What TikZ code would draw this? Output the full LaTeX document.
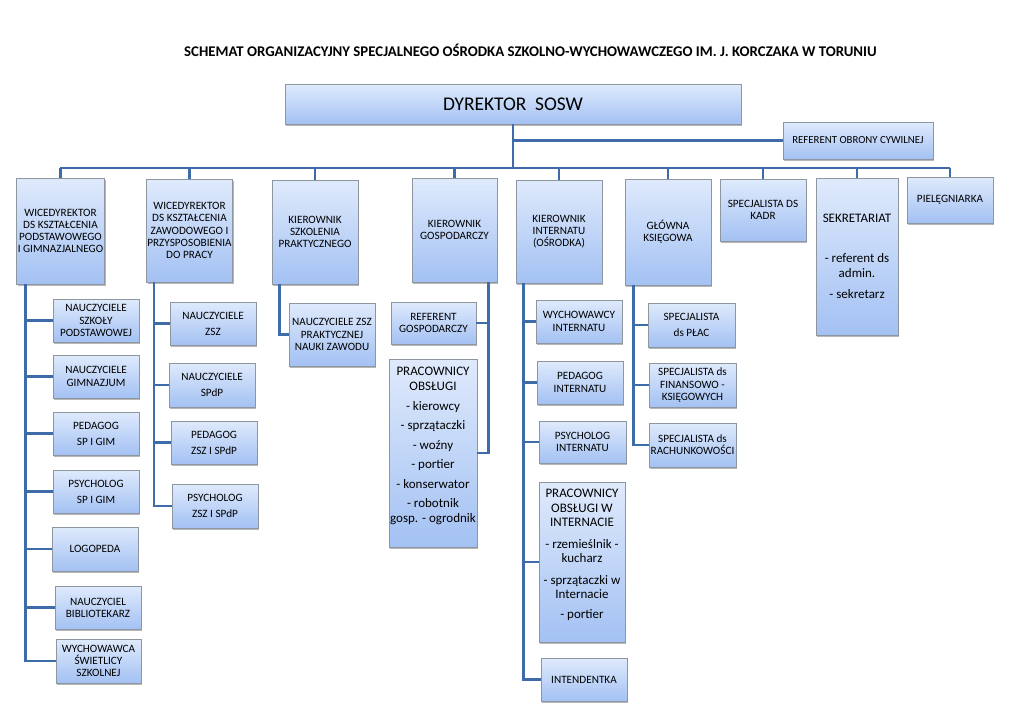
\documentclass[tikz,border=0pt]{standalone}
\usepackage{fontspec}
\setmainfont{Carlito}
\usetikzlibrary{shadows}
\definecolor{boxtop}{HTML}{DFEAFC}
\definecolor{boxbot}{HTML}{A3C1F3}
\definecolor{connc}{HTML}{3E6CA8}
\definecolor{boxline}{HTML}{8E969F}
\begin{document}
\begin{tikzpicture}[x=1pt,y=-1pt,
  box/.style={draw=boxline, line width=0.7pt, top color=boxtop, bottom color=boxbot,
    align=center, inner sep=1pt, font=\fontsize{11.2}{12.2}\selectfont,
    drop shadow={shadow xshift=1.4pt, shadow yshift=-1.8pt, opacity=0.4, fill=black!70}},
  wh/.style 2 args={minimum width=#1pt, minimum height=#2pt},
  big/.style={font=\fontsize{13}{14.5}\selectfont},
  conn/.style={draw=connc, line width=2.4pt}]
\fill[white] (0,0) rectangle (1024,725);
\useasboundingbox (0,0) rectangle (1024,725);

\node[font=\bfseries\fontsize{14.8}{17}\selectfont] (title) at (530.5,50)
  {SCHEMAT ORGANIZACYJNY SPECJALNEGO OŚRODKA SZKOLNO-WYCHOWAWCZEGO IM. J. KORCZAKA W TORUNIU};

% top level
\node[box, wh={456}{40}, font=\fontsize{19.4}{21}\selectfont] (dir) at (513,104) {DYREKTOR\ \ SOSW};
\node[box, wh={150}{37}, font=\fontsize{10.8}{12}\selectfont] (ref) at (858,140.5) {REFERENT OBRONY CYWILNEJ};

\node[box, wh={87}{106}] (b1) at (60.5,231) {WICEDYREKTOR\\DS KSZTAŁCENIA\\PODSTAWOWEGO\\I GIMNAZJALNEGO};
\node[box, wh={85}{103}] (b2) at (189.5,230.5) {WICEDYREKTOR\\DS KSZTAŁCENIA\\ZAWODOWEGO I\\PRZYSPOSOBIENIA\\DO PRACY};
\node[box, wh={86}{104}] (b3) at (315,232) {KIEROWNIK\\SZKOLENIA\\PRAKTYCZNEGO};
\node[box, wh={85}{104}] (b4) at (454.5,230) {KIEROWNIK\\GOSPODARCZY};
\node[box, wh={86}{103}] (b5) at (559,231.5) {KIEROWNIK\\INTERNATU\\(OŚRODKA)};
\node[box, wh={86}{106}] (b6) at (668,232) {GŁÓWNA\\KSIĘGOWA};
\node[box, wh={86}{62}] (b7) at (763,210) {SPECJALISTA DS\\KADR};
\node[box, wh={82}{157}, big] (b8) at (857,256.5) {SEKRETARIAT\\[26pt]- referent ds\\admin.\\[7pt]- sekretarz};
\node[box, wh={86}{46}] (b9) at (950,200) {PIELĘGNIARKA};

% column 1
\node[box, wh={86}{43}] (s11) at (96,320.5) {NAUCZYCIELE\\SZKOŁY\\PODSTAWOWEJ};
\node[box, wh={86}{43}] (s12) at (96,376.5) {NAUCZYCIELE\\GIMNAZJUM};
\node[box, wh={86}{43}] (s13) at (96,433.5) {PEDAGOG\\[4pt]SP I GIM};
\node[box, wh={86}{43}] (s14) at (96,491.5) {PSYCHOLOG\\[4pt]SP I GIM};
\node[box, wh={86}{44}] (s15) at (95,549) {LOGOPEDA};
\node[box, wh={86}{43}] (s16) at (98,607.5) {NAUCZYCIEL\\BIBLIOTEKARZ};
\node[box, wh={85}{44}] (s17) at (98.5,661) {WYCHOWAWCA\\ŚWIETLICY\\SZKOLNEJ};

% column 2
\node[box, wh={86}{43}] (s21) at (213,323.5) {NAUCZYCIELE\\[4pt]ZSZ};
\node[box, wh={86}{44}] (s22) at (212,385) {NAUCZYCIELE\\[4pt]SPdP};
\node[box, wh={86}{43}] (s23) at (214,442.5) {PEDAGOG\\[4pt]ZSZ I SPdP};
\node[box, wh={86}{44}] (s24) at (215,506) {PSYCHOLOG\\[4pt]ZSZ I SPdP};

% column 3
\node[box, wh={86}{63}] (s31) at (332,334.5) {NAUCZYCIELE ZSZ\\PRAKTYCZNEJ\\NAUKI ZAWODU};

% column 4
\node[box, wh={85}{42}] (s41) at (433.5,323) {REFERENT\\GOSPODARCZY};
\node[box, wh={88}{188}, big] (s42) at (433,453)
  {PRACOWNICY\\OBSŁUGI\\[5.5pt]- kierowcy\\[5pt]- sprzątaczki\\[5pt]- woźny\\[5pt]- portier\\[5pt]- konserwator\\[5pt]- robotnik\\gosp. - ogrodnik\\[2pt]\mbox{}};

% column 5
\node[box, wh={86}{43}] (s51) at (579,321.5) {WYCHOWAWCY\\INTERNATU};
\node[box, wh={86}{43}] (s52) at (580,382.5) {PEDAGOG\\INTERNATU};
\node[box, wh={87}{42}] (s53) at (582.5,442) {PSYCHOLOG\\INTERNATU};
\node[box, wh={86}{160}, big] (s54) at (582,562)
  {PRACOWNICY\\OBSŁUGI W\\INTERNACIE\\[7pt]- rzemieślnik -\\kucharz\\[7pt]- sprzątaczki w\\Internacie\\[5pt]- portier\\[2pt]\mbox{}};
\node[box, wh={86}{43}] (s55) at (584,679.5) {INTENDENTKA};

% column 6
\node[box, wh={87}{44}] (s61) at (691.5,325) {SPECJALISTA\\[4pt]ds PŁAC};
\node[box, wh={87}{44}] (s62) at (692.5,385) {SPECJALISTA ds\\FINANSOWO -\\KSIĘGOWYCH};
\node[box, wh={87}{44}] (s63) at (692.5,445) {SPECJALISTA ds\\RACHUNKOWOŚCI};

% connectors: top bus
\coordinate (busL) at (60,168);
\coordinate (busR) at (950,168);
\draw[conn] (busL) -- (busR);
\draw[conn] (dir.south) -- (dir.south |- busL);
\draw[conn] (dir.south |- ref.west) -- (ref.west);
\foreach \b in {b1,b2,b3,b4,b5,b6,b7,b8,b9}
  \draw[conn] (\b.north) -- (\b.north |- busL);

% column lines
\coordinate (c1) at ([xshift=9pt]b1.south west);
\coordinate (c2) at ([xshift=8pt]b2.south west);
\coordinate (c3) at ([xshift=8pt]b3.south west);
\coordinate (c4) at ([xshift=-9pt]b4.south east);
\coordinate (c5) at ([xshift=8pt]b5.south west);
\coordinate (c6) at ([xshift=9pt]b6.south west);

\draw[conn] (c1) |- (s17.west);
\foreach \s in {s11,s12,s13,s14,s15,s16}
  \draw[conn] (c1 |- \s.west) -- (\s.west);
\draw[conn] (c2) |- (s24.west);
\foreach \s in {s21,s22,s23}
  \draw[conn] (c2 |- \s.west) -- (\s.west);
\draw[conn] (c3) |- (s31.west);
\draw[conn] (c4) |- (s42.east);
\draw[conn] (c4 |- s41.east) -- (s41.east);
\draw[conn] (c5) |- (s55.west);
\foreach \s in {s51,s52,s53,s54}
  \draw[conn] (c5 |- \s.west) -- (\s.west);
\draw[conn] (c6) |- (s63.west);
\foreach \s in {s61,s62}
  \draw[conn] (c6 |- \s.west) -- (\s.west);
\end{tikzpicture}
\end{document}
